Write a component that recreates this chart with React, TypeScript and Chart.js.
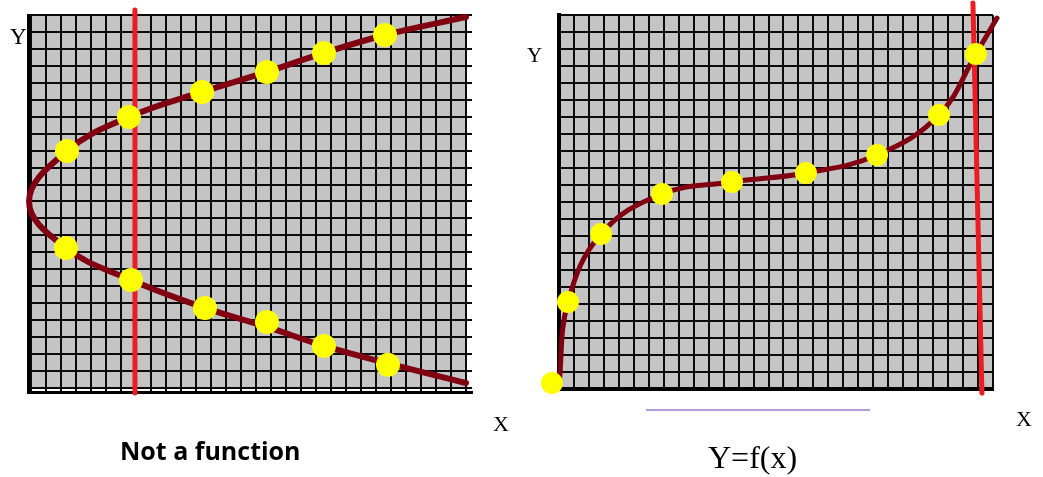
import React, { useEffect, useRef } from "react";
import { Chart, registerables } from "chart.js";

Chart.register(...registerables);

// graph-paper size (cells)
const gridCols = 29;
const gridRows = 22;

// ---- Left panel: "Not a function" (sideways parabola) ----
const leftCurveX = [29, 23.6, 19.53, 15.73, 11.4, 6.53, 2.4, -0.13, 2.33, 6.67, 11.6, 15.73, 19.53, 23.8, 29];
const leftCurveY = [21.88, 20.82, 19.76, 18.64, 17.46, 15.98, 13.98, 11.0, 8.26, 6.37, 4.72, 3.6, 2.48, 1.45, 0.29];
const leftDotX = [2.4, 6.53, 11.4, 15.73, 19.53, 23.6, 2.33, 6.67, 11.6, 15.73, 19.53, 23.8];
const leftDotY = [13.98, 15.98, 17.46, 18.64, 19.76, 20.82, 8.26, 6.37, 4.72, 3.89, 2.48, 1.36];
const leftRedX = [6.93, 6.93];
const leftRedY = [22.3, -0.3];

// ---- Right panel: "Y=f(x)" ----
const rightCurveX = [0, 0.6, 2.81, 6.88, 11.56, 16.5, 21.25, 25.39, 27.86, 29.27];
const rightCurveY = [0.24, 5.12, 9.12, 11.47, 12.18, 12.71, 13.76, 16.12, 19.71, 21.82];
const rightDotX = [-0.47, 0.6, 2.81, 6.88, 11.56, 16.5, 21.25, 25.39, 27.86];
const rightDotY = [0.35, 5.12, 9.12, 11.47, 12.18, 12.71, 13.76, 16.12, 19.71];
const rightRedX = [27.66, 28.26];
const rightRedY = [22.7, -0.24];

// labels
const leftTitle = "Not a function";
const rightTitle = "Y=f(x)";
const axisY = "Y";
const axisX = "X";

const toPts = (xs: number[], ys: number[]) => xs.map((x, i) => ({ x, y: ys[i] }));

const paperPlugin = {
  id: "paper",
  beforeDraw(chart: any) {
    const { ctx, scales } = chart;
    const x = scales.x;
    const y = scales.y;
    const l = x.getPixelForValue(0);
    const r = x.getPixelForValue(gridCols);
    const t = y.getPixelForValue(gridRows);
    const b = y.getPixelForValue(0);
    ctx.save();
    ctx.fillStyle = "#c4c4c4";
    ctx.fillRect(l, t, r - l, b - t);
    ctx.restore();
  },
};

type PanelProps = {
  left: number;
  width: number;
  height: number;
  curve: { x: number; y: number }[];
  dots: { x: number; y: number }[];
  red: { x: number; y: number }[];
  xMin: number;
  xMax: number;
  yMin: number;
  yMax: number;
  pad: { left: number; right: number; top: number; bottom: number };
  borderWidth: number;
  curveWidth: number;
  dotRadius: number;
};

function Panel(p: PanelProps) {
  const ref = useRef<HTMLCanvasElement | null>(null);
  useEffect(() => {
    if (!ref.current) return;
    const axis = (min: number, max: number) => ({
      type: "linear" as const,
      min,
      max,
      ticks: { display: false, stepSize: 1, includeBounds: false, maxTicksLimit: 200 },
      grid: { color: "#0a0a0a", lineWidth: 2, drawTicks: false },
      border: { display: true, color: "#000", width: p.borderWidth },
      title: { display: false },
    });
    const chart = new Chart(ref.current, {
      type: "scatter",
      data: {
        datasets: [
          {
            data: p.dots,
            pointRadius: p.dotRadius,
            pointBackgroundColor: "#ffff00",
            pointBorderWidth: 0,
            pointBorderColor: "#ffff00",
            showLine: false,
            clip: false as any,
          },
          {
            data: p.red,
            showLine: true,
            pointRadius: 0,
            borderColor: "#ec1c24",
            borderWidth: 5,
            borderCapStyle: "round",
            tension: 0,
            clip: false as any,
          },
          {
            data: p.curve,
            showLine: true,
            pointRadius: 0,
            borderColor: "#800012",
            borderWidth: p.curveWidth,
            borderCapStyle: "round",
            tension: 0.4,
            clip: false as any,
          },
        ],
      },
      options: {
        animation: false,
        responsive: false,
        events: [],
        layout: { padding: p.pad, autoPadding: false } as any,
        plugins: { legend: { display: false }, tooltip: { enabled: false } },
        scales: { x: axis(p.xMin, p.xMax), y: axis(p.yMin, p.yMax) },
      } as any,
      plugins: [paperPlugin],
    });
    return () => chart.destroy();
  }, []);
  return (
    <canvas
      ref={ref}
      width={p.width}
      height={p.height}
      style={{ position: "absolute", left: p.left, top: 0, width: p.width, height: p.height }}
    />
  );
}

const serif = '"Liberation Serif", "DejaVu Serif", serif';

export default function App() {
  return (
    <div style={{ position: "absolute", left: 0, top: 0, width: 1043, height: 477, background: "#fff", overflow: "hidden" }}>
      <Panel
        left={0}
        width={520}
        height={477}
        curve={toPts(leftCurveX, leftCurveY)}
        dots={toPts(leftDotX, leftDotY)}
        red={toPts(leftRedX, leftRedY)}
        xMin={-0.2}
        xMax={29.4}
        yMin={-0.27}
        yMax={22}
        pad={{ left: 28, right: 48, top: 15, bottom: 84.5 }}
        borderWidth={3}
        curveWidth={6}
        dotRadius={12}
      />
      <Panel
        left={520}
        width={523}
        height={477}
        curve={toPts(rightCurveX, rightCurveY)}
        dots={toPts(rightDotX, rightDotY)}
        red={toPts(rightRedX, rightRedY)}
        xMin={0}
        xMax={29}
        yMin={0}
        yMax={22}
        pad={{ left: 39, right: 50, top: 15, bottom: 88 }}
        borderWidth={4}
        curveWidth={5}
        dotRadius={11}
      />
      <div style={{ position: "absolute", left: 10, top: 25, fontFamily: serif, fontSize: 23, lineHeight: 1 }}>{axisY}</div>
      <div style={{ position: "absolute", left: 527, top: 45, fontFamily: serif, fontSize: 21, lineHeight: 1 }}>{axisY}</div>
      <div style={{ position: "absolute", left: 493, top: 413, fontFamily: serif, fontSize: 22, lineHeight: 1 }}>{axisX}</div>
      <div style={{ position: "absolute", left: 1016, top: 408, fontFamily: serif, fontSize: 22, lineHeight: 1 }}>{axisX}</div>
      <div
        style={{
          position: "absolute",
          left: 120,
          top: 438,
          fontFamily: '"Open Sans", "Liberation Sans", sans-serif',
          fontWeight: 700,
          fontSize: 25,
          lineHeight: 1,
          color: "#000",
        }}
      >
        {leftTitle}
      </div>
      <div style={{ position: "absolute", left: 646, top: 409, width: 224, height: 2, background: "#b39ddb" }} />
      <div style={{ position: "absolute", left: 708, top: 441, fontFamily: serif, fontSize: 32, lineHeight: 1 }}>{rightTitle}</div>
    </div>
  );
}
